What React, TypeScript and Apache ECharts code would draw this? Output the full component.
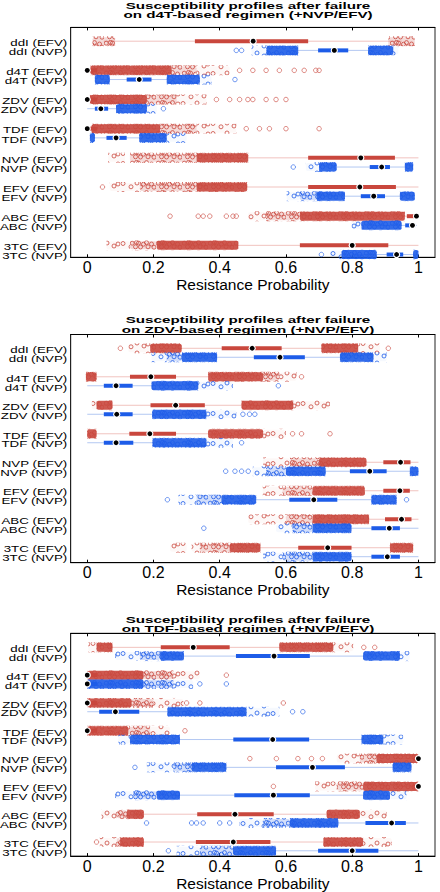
import React, { useEffect, useRef } from 'react';
import * as echarts from 'echarts';

// ---------- categories / labels ----------
const DRUGS = ['ddI', 'd4T', 'ZDV', 'TDF', 'NVP', 'EFV', 'ABC', '3TC'];
const REGIMENS = ['EFV', 'NVP'];
const TITLES = [
  'Susceptibility profiles after failure\non d4T-based regimen (+NVP/EFV)',
  'Susceptibility profiles after failure\non ZDV-based regimen (+NVP/EFV)',
  'Susceptibility profiles after failure\non TDF-based regimen (+NVP/EFV)',
];
const X_TICKS = [0, 0.2, 0.4, 0.6, 0.8, 1];
const AXIS_NAME = 'Resistance Probability';

// ---------- boxes: [whiskerLow, q1, median, q3, whiskerHigh] per drug ----------
const A_EFV_BOX = [
  [0.05, 0.325, 0.501, 0.667, 0.95],
  [0, 0, 0, 0.03, 0.255],
  [0, 0, 0, 0.03, 0.18],
  [0, 0, 0, 0.03, 0.22],
  [0.4, 0.667, 0.826, 0.929, 1.0],
  [0.4, 0.667, 0.823, 0.932, 1.0],
  [0.7, 0.965, 0.994, 1.0, 1.0],
  [0.4, 0.642, 0.8, 0.909, 1.0],
];
const A_NVP_BOX = [
  [0.6, 0.697, 0.746, 0.788, 0.88],
  [0.04, 0.119, 0.157, 0.194, 0.3],
  [0, 0.023, 0.041, 0.063, 0.15],
  [0.015, 0.058, 0.087, 0.119, 0.2],
  [0.72, 0.853, 0.889, 0.914, 0.97],
  [0.72, 0.826, 0.865, 0.899, 0.96],
  [0.85, 0.96, 0.982, 0.99, 0.995],
  [0.8, 0.904, 0.934, 0.954, 1.0],
];
const B_EFV_BOX = [
  [0.24, 0.406, 0.498, 0.587, 0.76],
  [0.0, 0.129, 0.192, 0.268, 0.45],
  [0.05, 0.191, 0.267, 0.355, 0.55],
  [0.0, 0.127, 0.189, 0.268, 0.45],
  [0.75, 0.894, 0.946, 0.976, 1.0],
  [0.75, 0.894, 0.944, 0.974, 1.0],
  [0.75, 0.899, 0.949, 0.979, 1.0],
  [0.48, 0.637, 0.726, 0.798, 0.95],
];
const B_NVP_BOX = [
  [0.33, 0.503, 0.582, 0.657, 0.8],
  [0, 0.05, 0.087, 0.137, 0.28],
  [0, 0.05, 0.089, 0.137, 0.3],
  [0, 0.05, 0.087, 0.139, 0.3],
  [0.65, 0.793, 0.853, 0.904, 1.0],
  [0.46, 0.61, 0.684, 0.755, 0.9],
  [0.74, 0.858, 0.912, 0.944, 1.0],
  [0.74, 0.858, 0.906, 0.944, 1.0],
];
const C_EFV_BOX = [
  [0.05, 0.222, 0.32, 0.43, 0.66],
  [0, 0, 0, 0.03, 0.17],
  [0, 0, 0, 0.03, 0.134],
  [0, 0, 0, 0.03, 0.124],
  [0.93, 0.985, 1.0, 1.0, 1.0],
  [0.93, 0.985, 1.0, 1.0, 1.0],
  [0.15, 0.332, 0.446, 0.563, 0.77],
  [0.14, 0.328, 0.441, 0.553, 0.77],
];
const C_NVP_BOX = [
  [0.26, 0.449, 0.564, 0.672, 0.88],
  [0, 0, 0, 0.03, 0.17],
  [0, 0.036, 0.085, 0.157, 0.3],
  [0.25, 0.441, 0.56, 0.67, 0.86],
  [0.38, 0.57, 0.68, 0.778, 0.95],
  [0.25, 0.444, 0.562, 0.672, 0.87],
  [0.7, 0.84, 0.919, 0.962, 1.0],
  [0.5, 0.697, 0.8, 0.879, 1.0],
];

// ---------- point clouds: [from, to, density 1=sparse 2=medium 3=dense] ----------
const A_EFV_CLOUD = [
  [[0.016, 0.084, 2], [0.909, 0.989, 2]],
  [[0.01, 0.255, 3], [0.255, 0.33, 2], [0.33, 0.43, 1]],
  [[0.008, 0.18, 3], [0.18, 0.27, 2], [0.27, 0.36, 1]],
  [[0.013, 0.22, 3], [0.22, 0.33, 2], [0.33, 0.45, 1]],
  [[0.063, 0.114, 1], [0.129, 0.33, 2], [0.33, 0.486, 3]],
  [[0.068, 0.159, 1], [0.159, 0.33, 2], [0.33, 0.483, 3]],
  [[0.486, 0.54, 1], [0.54, 0.642, 2], [0.642, 0.959, 3]],
  [[0.058, 0.129, 1], [0.129, 0.21, 2], [0.21, 0.456, 3]],
];
const A_NVP_CLOUD = [
  [[0.496, 0.541, 1], [0.541, 0.637, 3], [0.848, 0.924, 3], [0.924, 0.939, 1]],
  [[0.023, 0.068, 3], [0.24, 0.34, 3], [0.34, 0.375, 1]],
  [[0.087, 0.18, 3], [0.18, 0.21, 1]],
  [[0.008, 0.023, 3], [0.157, 0.24, 3], [0.24, 0.3, 1]],
  [[0.66, 0.7, 1], [0.7, 0.753, 3], [0.959, 0.984, 3]],
  [[0.602, 0.642, 1], [0.642, 0.692, 2], [0.692, 0.778, 3], [0.944, 0.989, 3]],
  [[0.798, 0.828, 1], [0.828, 0.949, 3]],
  [[0.733, 0.768, 1], [0.768, 0.874, 3], [0.984, 1.0, 3]],
];
const B_EFV_CLOUD = [
  [[0.124, 0.19, 1], [0.19, 0.285, 3], [0.707, 0.818, 3], [0.818, 0.884, 1]],
  [[-0.004, 0.028, 3], [0.365, 0.531, 3], [0.531, 0.58, 2], [0.58, 0.632, 1]],
  [[0.014, 0.028, 1], [0.028, 0.076, 3], [0.466, 0.622, 3], [0.622, 0.733, 1]],
  [[0, 0.028, 3], [0.365, 0.531, 3], [0.531, 0.6, 1]],
  [[0.531, 0.612, 1], [0.612, 0.7, 2], [0.7, 0.843, 3]],
  [[0.53, 0.59, 1], [0.59, 0.68, 2], [0.68, 0.838, 3]],
  [[0.486, 0.6, 1], [0.6, 0.68, 2], [0.68, 0.851, 3]],
  [[0.25, 0.3, 1], [0.315, 0.34, 1], [0.34, 0.43, 2], [0.43, 0.523, 3], [0.914, 0.984, 3]],
];
const B_NVP_CLOUD = [
  [[0.194, 0.24, 1], [0.24, 0.285, 2], [0.285, 0.392, 3], [0.763, 0.864, 3], [0.864, 0.904, 1]],
  [[0.194, 0.335, 3], [0.335, 0.44, 1]],
  [[0.196, 0.36, 3], [0.36, 0.45, 1]],
  [[0.197, 0.36, 3], [0.36, 0.44, 1]],
  [[0.5, 0.54, 1], [0.54, 0.6, 2], [0.6, 0.72, 3], [0.974, 1.0, 3]],
  [[0.275, 0.33, 1], [0.33, 0.405, 2], [0.405, 0.51, 3], [0.858, 0.934, 3]],
  [[0.57, 0.62, 1], [0.62, 0.68, 2], [0.68, 0.798, 3]],
  [[0.531, 0.59, 1], [0.59, 0.68, 2], [0.68, 0.798, 3]],
];
const C_EFV_CLOUD = [
  [[0.003, 0.028, 1], [0.028, 0.076, 3], [0.58, 0.743, 3], [0.743, 0.803, 1]],
  [[0, 0.17, 3], [0.17, 0.26, 2], [0.26, 0.34, 1]],
  [[0, 0.134, 3], [0.134, 0.2, 2], [0.2, 0.29, 1]],
  [[0, 0.124, 3], [0.124, 0.19, 2], [0.19, 0.25, 1]],
  [[0.753, 0.823, 1], [0.823, 0.873, 2], [0.873, 1.0, 3]],
  [[0.688, 0.753, 1], [0.753, 0.833, 2], [0.833, 1.0, 3]],
  [[0.043, 0.089, 1], [0.089, 0.119, 2], [0.119, 0.171, 3], [0.723, 0.823, 3], [0.823, 0.904, 1]],
  [[0.038, 0.089, 1], [0.089, 0.099, 2], [0.099, 0.171, 3], [0.713, 0.833, 3], [0.833, 0.919, 1]],
];
const C_NVP_CLOUD = [
  [[0.084, 0.159, 1], [0.159, 0.22, 2], [0.22, 0.292, 3], [0.833, 0.944, 3], [0.944, 0.974, 1]],
  [[0, 0.17, 3], [0.17, 0.26, 2], [0.26, 0.32, 1]],
  [[0.242, 0.481, 3], [0.481, 0.58, 1]],
  [[0.094, 0.129, 1], [0.129, 0.28, 3], [0.828, 0.894, 3], [0.894, 0.954, 1]],
  [[0.18, 0.26, 1], [0.26, 0.315, 2], [0.315, 0.42, 3], [0.922, 0.979, 3]],
  [[0.084, 0.139, 1], [0.139, 0.21, 2], [0.21, 0.28, 3], [0.833, 0.914, 3], [0.914, 0.964, 1]],
  [[0.46, 0.53, 1], [0.53, 0.612, 2], [0.612, 0.758, 3]],
  [[0.27, 0.34, 1], [0.34, 0.44, 2], [0.44, 0.57, 3]],
];

// ---------- isolated points (x values) per drug ----------
const A_EFV_PTS = [[], [0.46, 0.5, 0.54, 0.58, 0.625, 0.655, 0.69, 0.7], [0.39, 0.43, 0.46, 0.485, 0.5, 0.54, 0.57, 0.6], [0.48, 0.52, 0.55, 0.6, 0.7], [], [0.046], [0.25, 0.335, 0.35, 0.37, 0.42, 0.44, 0.45], []];
const A_NVP_PTS = [[0.45, 0.466], [0.446], [0.23], [], [0.622], [], [], [0.707]];
const B_EFV_PTS = [[0.1, 0.909], [0.647], [], [0.62, 0.647, 0.733], [], [], [], []];
const B_NVP_PTS = [[], [0.577], [0.47, 0.49, 0.506], [0.466], [0.418, 0.446, 0.466, 0.486], [0.242, 0.964], [0.352], []];
const C_EFV_PTS = [[0.835, 0.868], [0.42], [0.3, 0.34, 0.592], [0.295], [0.491, 0.571, 0.636, 0.677, 0.71], [0.562], [], [0.028]];
const C_NVP_PTS = [[], [0.34, 0.42], [0.62, 0.651], [], [0.144], [], [0.179, 0.315, 0.33, 0.35, 0.4, 0.43], [0.245]];

// ---------- styling / layout ----------
const RED = '#c9473d';
const BLUE = '#1d5ce8';
const RED_LIGHT = '#f1c3bf';
const BLUE_LIGHT = '#b3c8f2';
const BASE_OPACITY: Record<number, number> = { 1: 0.04, 2: 0.2, 3: 0.9 };
const FONT = 'Liberation Sans, Arial, Helvetica, sans-serif';
const X_MIN = -0.05;
const X_MAX = 1.05;
const NVP_OFFSET = 0.315;
const GRID_LEFT = 70.7;
const GRID_RIGHT = 5;
const GRID_TOP = [27.4, 334.5, 633.3];
const GRID_HEIGHT = [229.9, 228.2, 228.4];
const Y_RANGE = [[-0.473, 7.41], [-0.484, 7.525], [-0.505, 7.506]];
const TITLE_Y = [10.8, 325.3, 624.7];
const BAND_H = 10;

const TEX_SPARSE = { w: 30, h: BAND_H, c: [[3, 3.5], [11, 6.8], [17, 3], [24, 6], [28, 4]] };
const TEX_MEDIUM = {
  w: 26,
  h: BAND_H,
  c: [[2.2, 3.2], [5.5, 6.8], [8.5, 3], [10.5, 7], [13.5, 4.2], [16.5, 2.6], [18, 6.8], [21.5, 4], [24, 7.2], [6.5, 2.4]],
};

function texUrl(color: string, t: { w: number; h: number; c: number[][] }) {
  const circles = t.c
    .map(([x, y]) => `<circle cx="${x}" cy="${y}" r="2" fill="none" stroke="${color}" stroke-width="0.8"/>`)
    .join('');
  const svg = `<svg xmlns="http://www.w3.org/2000/svg" width="${t.w}" height="${t.h}">${circles}</svg>`;
  return 'data:image/svg+xml;charset=utf-8,' + encodeURIComponent(svg);
}
const TEX_URLS = [
  { 1: texUrl(RED, TEX_SPARSE), 2: texUrl(RED, TEX_MEDIUM), 3: texUrl(RED, TEX_MEDIUM) },
  { 1: texUrl(BLUE, TEX_SPARSE), 2: texUrl(BLUE, TEX_MEDIUM), 3: texUrl(BLUE, TEX_MEDIUM) },
] as Record<number, string>[];

const PANELS = [
  { efvBox: A_EFV_BOX, nvpBox: A_NVP_BOX, efvCloud: A_EFV_CLOUD, nvpCloud: A_NVP_CLOUD, efvPts: A_EFV_PTS, nvpPts: A_NVP_PTS },
  { efvBox: B_EFV_BOX, nvpBox: B_NVP_BOX, efvCloud: B_EFV_CLOUD, nvpCloud: B_NVP_CLOUD, efvPts: B_EFV_PTS, nvpPts: B_NVP_PTS },
  { efvBox: C_EFV_BOX, nvpBox: C_NVP_BOX, efvCloud: C_EFV_CLOUD, nvpCloud: C_NVP_CLOUD, efvPts: C_EFV_PTS, nvpPts: C_NVP_PTS },
];

const whiskerItem = (_p: any, api: any) => {
  const y = api.value(2);
  const a = api.coord([api.value(0), y]);
  const b = api.coord([api.value(1), y]);
  return {
    type: 'line',
    shape: { x1: a[0], y1: a[1], x2: b[0], y2: b[1] },
    style: { stroke: api.value(3) === 0 ? RED_LIGHT : BLUE_LIGHT, lineWidth: 1 },
  };
};

const cloudItem = (_p: any, api: any) => {
  const y = api.value(2);
  const a = api.coord([api.value(0), y]);
  const b = api.coord([api.value(1), y]);
  const d = api.value(3);
  const reg = api.value(4);
  const t = d === 1 ? TEX_SPARSE : TEX_MEDIUM;
  const x0 = a[0];
  const y0 = a[1] - BAND_H / 2;
  const w = Math.max(b[0] - a[0], 2);
  const inset = d === 3 ? 0.5 : 1;
  return {
    type: 'group',
    children: [
      {
        type: 'rect',
        shape: { x: x0, y: y0 + inset, width: w, height: BAND_H - 2 * inset, r: 2 },
        style: { fill: reg === 0 ? RED : BLUE, opacity: BASE_OPACITY[d] },
      },
      {
        type: 'rect',
        shape: { x: x0, y: y0, width: w, height: BAND_H },
        style: {
          fill: { image: TEX_URLS[reg][d], repeat: 'repeat', imageWidth: t.w, imageHeight: t.h, x: x0, y: y0 },
        },
      },
    ],
  };
};

const boxItem = (_p: any, api: any) => {
  const y = api.value(3);
  const q1 = api.coord([api.value(0), y]);
  const md = api.coord([api.value(1), y]);
  const q3 = api.coord([api.value(2), y]);
  const c = api.value(4) === 0 ? RED : BLUE;
  return {
    type: 'group',
    children: [
      { type: 'rect', shape: { x: q1[0], y: q1[1] - 2, width: Math.max(q3[0] - q1[0], 0), height: 4 }, style: { fill: c } },
      { type: 'circle', shape: { cx: md[0], cy: md[1], r: 3.6 }, style: { fill: '#fff' } },
      { type: 'circle', shape: { cx: md[0], cy: md[1], r: 2.4 }, style: { fill: '#000' } },
    ],
  };
};

const labelItem = (_p: any, api: any) => {
  const y = api.value(0);
  const p = api.coord([X_MIN, y]);
  const idx = api.value(1);
  const reg = api.value(2);
  return {
    type: 'text',
    x: p[0] - 3.5,
    y: p[1] + 1.5,
    scaleY: 0.7,
    style: {
      text: `${DRUGS[idx]} (${REGIMENS[reg]})`,
      align: 'right',
      verticalAlign: 'middle',
      fontSize: 13.3,
      fontFamily: FONT,
      fill: '#000',
    },
  };
};

function buildOption() {
  const grid: any[] = [];
  const xAxis: any[] = [];
  const yAxis: any[] = [];
  const series: any[] = [];

  PANELS.forEach((P, p) => {
    grid.push({
      left: GRID_LEFT,
      right: GRID_RIGHT,
      top: GRID_TOP[p],
      height: GRID_HEIGHT[p],
      show: true,
      borderColor: '#222',
      borderWidth: 1,
      backgroundColor: 'transparent',
    });
    xAxis.push({
      type: 'value',
      gridIndex: p,
      position: 'bottom',
      min: X_MIN,
      max: X_MAX,
      axisLine: { show: true, onZero: false, lineStyle: { color: '#000', width: 1 } },
      axisTick: { show: true, inside: true, length: 3, customValues: X_TICKS, lineStyle: { color: '#000' } },
      axisLabel: {
        customValues: X_TICKS,
        formatter: (v: number) => (v === 0 ? '0' : v === 1 ? '1' : v.toFixed(1)),
        fontSize: 16,
        fontFamily: FONT,
        color: '#000',
        margin: 2,
      },
      splitLine: { show: false },
      name: AXIS_NAME,
      nameLocation: 'middle',
      nameGap: 17,
      nameTextStyle: { fontSize: 15.5, fontFamily: FONT, color: '#000' },
    });
    xAxis.push({
      type: 'value',
      gridIndex: p,
      position: 'top',
      min: X_MIN,
      max: X_MAX,
      axisLine: { show: true, onZero: false, lineStyle: { color: '#000', width: 1 } },
      axisTick: { show: true, inside: true, length: 3, customValues: X_TICKS, lineStyle: { color: '#000' } },
      axisLabel: { show: false },
      splitLine: { show: false },
    });
    yAxis.push({
      type: 'value',
      gridIndex: p,
      min: Y_RANGE[p][0],
      max: Y_RANGE[p][1],
      inverse: true,
      axisLine: { show: true, onZero: false, lineStyle: { color: '#222' } },
      axisTick: { show: false },
      axisLabel: { show: false },
      splitLine: { show: false },
    });

    const whiskers: number[][] = [];
    const clouds: number[][] = [];
    const boxes: number[][] = [];
    const labels: number[][] = [];
    const ptsEfv: number[][] = [];
    const ptsNvp: number[][] = [];

    DRUGS.forEach((_d, i) => {
      [P.efvBox, P.nvpBox].forEach((boxArr, reg) => {
        const y = i + (reg === 1 ? NVP_OFFSET : 0);
        const b = boxArr[i];
        whiskers.push([b[0], b[4], y, reg]);
        boxes.push([b[1], b[2], b[3], y, reg]);
        labels.push([y, i, reg]);
      });
      [P.efvCloud, P.nvpCloud].forEach((cloudArr, reg) => {
        const y = i + (reg === 1 ? NVP_OFFSET : 0);
        cloudArr[i].forEach((s) => clouds.push([s[0], s[1], y, s[2], reg]));
      });
      P.efvPts[i].forEach((x) => ptsEfv.push([x, i]));
      P.nvpPts[i].forEach((x) => ptsNvp.push([x, i + NVP_OFFSET]));
    });

    const common = { coordinateSystem: 'cartesian2d', xAxisIndex: 2 * p, yAxisIndex: p, silent: true };
    series.push({ ...common, type: 'custom', z: 1, data: whiskers, renderItem: whiskerItem });
    series.push({ ...common, type: 'custom', z: 2, data: clouds, renderItem: cloudItem });
    series.push({
      ...common,
      type: 'scatter',
      z: 3,
      symbol: 'circle',
      symbolSize: 4.5,
      data: ptsEfv,
      itemStyle: { color: 'rgba(255,255,255,0)', borderColor: RED, borderWidth: 0.8 },
    });
    series.push({
      ...common,
      type: 'scatter',
      z: 3,
      symbol: 'circle',
      symbolSize: 4.5,
      data: ptsNvp,
      itemStyle: { color: 'rgba(255,255,255,0)', borderColor: BLUE, borderWidth: 0.8 },
    });
    series.push({ ...common, type: 'custom', z: 4, data: boxes, renderItem: boxItem });
    series.push({ ...common, type: 'custom', z: 5, data: labels, renderItem: labelItem, clip: false });
  });

  const graphic = TITLES.map((t, i) => ({
    type: 'text',
    x: 248,
    y: TITLE_Y[i],
    scaleY: 0.6,
    silent: true,
    style: {
      text: t,
      align: 'center',
      verticalAlign: 'middle',
      fontSize: 15.2,
      fontWeight: 'bold',
      fontFamily: FONT,
      lineHeight: 15.8,
      fill: '#000',
    },
  }));

  return {
    animation: false,
    backgroundColor: '#fff',
    textStyle: { fontFamily: FONT },
    grid,
    xAxis,
    yAxis,
    series,
    graphic,
  };
}

export default function App() {
  const ref = useRef<HTMLDivElement>(null);
  useEffect(() => {
    if (!ref.current) return;
    const chart = echarts.init(ref.current, undefined, { renderer: 'svg' });
    chart.setOption(buildOption() as any);
    return () => chart.dispose();
  }, []);
  return (
    <div
      ref={ref}
      style={{ position: 'absolute', left: 0, top: 0, width: 440, height: 892, background: '#fff' }}
    />
  );
}
